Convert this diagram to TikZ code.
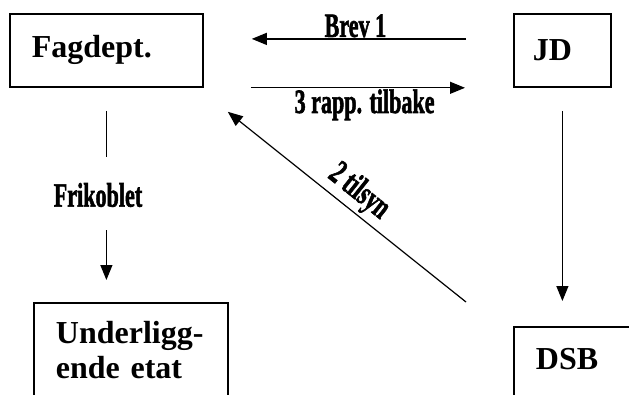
\documentclass[tikz,border=0pt]{standalone}
\usepackage{graphicx}
\usepackage{fontspec}
\setmainfont{Liberation Serif}
\newfontfamily\lblfont{Liberation Serif}[FakeBold=2]
\usetikzlibrary{arrows.meta}
\newcommand{\lbl}[1]{\scalebox{0.65}[1]{\fontsize{34}{36}\selectfont\lblfont\bfseries #1}}
\tikzset{
  box/.style={draw, line width=1.8pt, anchor=north west, align=left, font=\fontsize{32}{35}\selectfont\bfseries},
  arr/.style={-{Triangle[length=15pt,width=12pt]}, line width=1.2pt},
  plain/.style={line width=1.2pt}
}
\begin{document}
\begin{tikzpicture}[x=1pt,y=-1pt]
\useasboundingbox (0,0) rectangle (629,394);
\clip (0,0) rectangle (629,394);
\node[box, inner xsep=22pt, inner ysep=0pt, text width=149pt, minimum height=73pt] (Fagdept) at (9,13) {Fagdept.};
\node[box, inner xsep=19pt, inner ysep=0pt, text width=59pt, minimum height=73pt] (JD) at (513,13) {JD};
\node[box, inner xsep=22pt, inner ysep=18pt, text width=150pt] (Underligg) at (33,302) {Underligg-\\ende etat};
\node[box, inner xsep=22pt, inner ysep=21pt, text width=100pt, text depth=12pt] (DSB) at (513,326) {DSB};
\node[inner sep=0pt] (fri) at (98,195) {\lbl{Frikoblet}};
\draw[arr, shorten <=47pt, shorten >=48pt] ([yshift=11.5pt]JD.west) -- ([yshift=11.5pt]Fagdept.east)
  node[midway, anchor=base, xshift=-3pt, yshift=2pt] {\lbl{Brev 1}};
\draw[arr, shorten <=47pt, shorten >=48pt] (Fagdept.south east) -- (JD.south west)
  node[pos=0.52, below, inner sep=1pt] {\lbl{3 rapp. tilbake}};
\draw[arr] ([xshift=-47pt,yshift=24pt]DSB.north west) -- ([xshift=24pt,yshift=-24pt]Fagdept.south east)
  node[midway, sloped, above, inner sep=3pt] {\lbl{2 tilsyn}};
\draw[plain, shorten <=23pt, shorten >=26pt] (Fagdept.south) -- (Fagdept.south |- fri.north);
\draw[arr, shorten <=23pt, shorten >=22pt] (Fagdept.south |- fri.south) -- (Fagdept.south |- Underligg.north);
\draw[arr, shorten <=23pt, shorten >=25pt] (JD.south) -- (JD.south |- DSB.north);
\end{tikzpicture}
\end{document}
